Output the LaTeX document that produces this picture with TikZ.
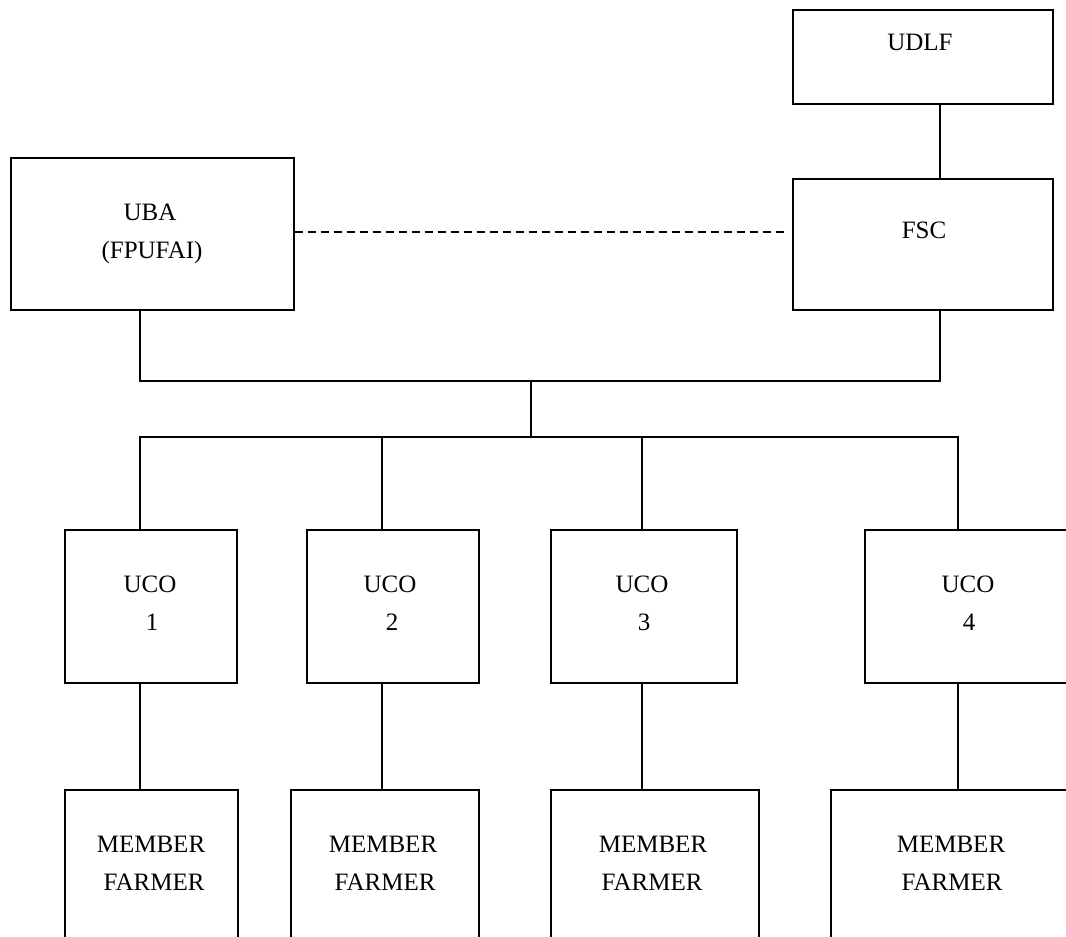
\documentclass[tikz,border=0pt]{standalone}
\usepackage{fontspec}
\setmainfont{Liberation Serif}
\begin{document}
\begin{tikzpicture}[x=1pt,y=-1pt,
  box/.style={draw, line width=1.5pt, rectangle, inner sep=0pt, anchor=north west},
  lbl/.style={anchor=base, inner sep=0pt, font=\fontsize{25}{30}\selectfont},
  conn/.style={line width=1.5pt},
  dashline/.style={line width=1.5pt, dash pattern=on 8pt off 5pt}]
\useasboundingbox (0,0) rectangle (1066,937);
\clip (0,0) rectangle (1066,937);
% boxes
\node[box, minimum width=260pt, minimum height=94pt] (udlf) at (792,9) {};
\node[box, minimum width=260pt, minimum height=131pt] (fsc) at (792,178) {};
\node[box, minimum width=283pt, minimum height=152pt] (uba) at (10,157) {};
\node[box, minimum width=172pt, minimum height=153pt] (uco1) at (64,529) {};
\node[box, minimum width=172pt, minimum height=153pt] (uco2) at (306,529) {};
\node[box, minimum width=186pt, minimum height=153pt] (uco3) at (550,529) {};
\node[box, minimum width=216pt, minimum height=153pt] (uco4) at (864,529) {};
\node[box, minimum width=173pt, minimum height=161pt] (mem1) at (64,789) {};
\node[box, minimum width=188pt, minimum height=161pt] (mem2) at (290,789) {};
\node[box, minimum width=208pt, minimum height=161pt] (mem3) at (550,789) {};
\node[box, minimum width=250pt, minimum height=161pt] (mem4) at (830,789) {};
% texts
\node[lbl] (udlft) at (920,50) {UDLF};
\node[lbl] (fsct) at (924,238) {FSC};
\node[lbl] (ubat) at (150,220) {UBA};
\node[lbl] (ubat2) at (152,258) {(FPUFAI)};
\node[lbl] (uco1t) at (150,592) {UCO};
\node[lbl] (uco1n) at (152,630) {1};
\node[lbl] (uco2t) at (390,592) {UCO};
\node[lbl] (uco2n) at (392,630) {2};
\node[lbl] (uco3t) at (642,592) {UCO};
\node[lbl] (uco3n) at (644,630) {3};
\node[lbl] (uco4t) at (968,592) {UCO};
\node[lbl] (uco4n) at (969,630) {4};
\node[lbl] (mem1t) at (151,852) {MEMBER};
\node[lbl] (mem1f) at (154,890) {FARMER};
\node[lbl] (mem2t) at (383,852) {MEMBER};
\node[lbl] (mem2f) at (385,890) {FARMER};
\node[lbl] (mem3t) at (653,852) {MEMBER};
\node[lbl] (mem3f) at (652,890) {FARMER};
\node[lbl] (mem4t) at (951,852) {MEMBER};
\node[lbl] (mem4f) at (952,890) {FARMER};
% junctions
\coordinate (hub) at (531,381);
\coordinate (bus) at (531,437);
% connectors
\draw[conn] ([xshift=148pt]udlf.south west) -- ([xshift=148pt]fsc.north west);
\draw[dashline] ([yshift=-75pt]uba.north east) -- ([xshift=-7pt,yshift=-54pt]fsc.north west);
\draw[conn] ([xshift=130pt]uba.south west) |- (hub) -| ([xshift=148pt]fsc.south west);
\draw[conn] (hub) -- (bus);
\draw[conn] (bus) -| ([xshift=76pt]uco1.north west);
\draw[conn] (bus) -| ([xshift=76pt]uco2.north west);
\draw[conn] (bus) -| ([xshift=92pt]uco3.north west);
\draw[conn] (bus) -| ([xshift=94pt]uco4.north west);
\draw[conn] ([xshift=76pt]uco1.south west) -- ([xshift=76pt]mem1.north west);
\draw[conn] ([xshift=76pt]uco2.south west) -- ([xshift=92pt]mem2.north west);
\draw[conn] ([xshift=92pt]uco3.south west) -- ([xshift=92pt]mem3.north west);
\draw[conn] ([xshift=94pt]uco4.south west) -- ([xshift=128pt]mem4.north west);
\end{tikzpicture}
\end{document}
